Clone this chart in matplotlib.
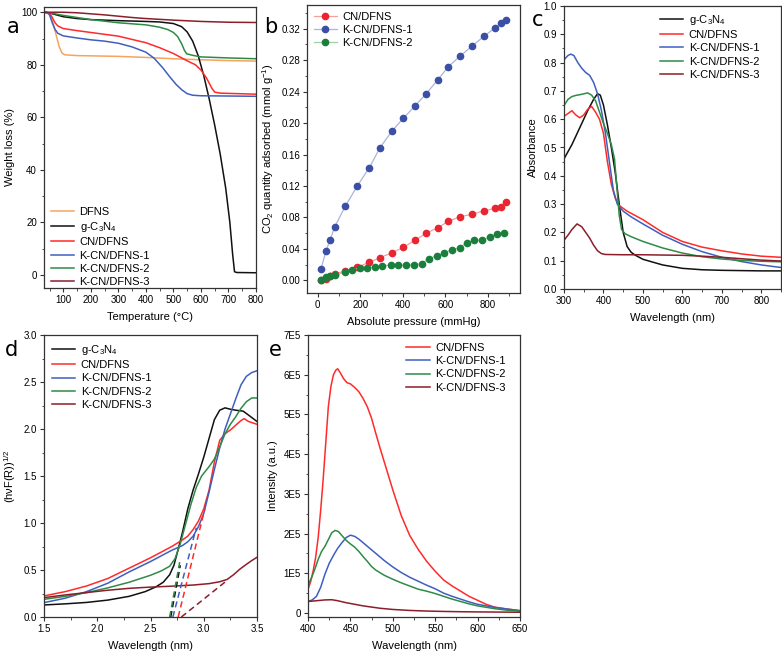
import numpy as np
import matplotlib
matplotlib.use('Agg')
import matplotlib.pyplot as plt
from matplotlib.ticker import MultipleLocator, FuncFormatter

plt.rcParams['font.family'] = ['Liberation Sans', 'DejaVu Sans']
plt.rcParams['mathtext.default'] = 'regular'
plt.rcParams['axes.linewidth'] = 0.9
plt.rcParams['axes.edgecolor'] = '#333333'

# ---- colours
c_dfns = '#F6A45E'
c_g = '#111111'
c_cn = '#FF2A2A'
c_k1 = '#3F5FC0'
c_k2 = '#2E8B46'
c_k3 = '#8B1E2A'

# ---- (a) TGA
tga_dfns_T = [30, 45, 55, 65, 75, 85, 95, 105, 150, 200, 300, 400, 500, 600, 700, 800]
tga_dfns_W = [100, 99.8, 98.5, 95, 91, 87, 84.5, 83.8, 83.5, 83.4, 83.2, 82.8, 82.3, 81.9, 81.6, 81.4]
tga_g_T = [30, 50, 100, 150, 200, 300, 400, 450, 500, 530, 550, 570, 590, 610, 630, 650, 670, 690, 705, 715, 722, 730, 800]
tga_g_W = [100, 99.7, 98.3, 97.6, 97.2, 96.8, 96.5, 96.3, 95.7, 94.5, 92.5, 89, 83.5, 76, 67, 57, 46, 33, 20, 8, 1.2, 0.9, 0.8]
tga_cn_T = [30, 50, 60, 70, 80, 100, 150, 200, 300, 400, 450, 500, 550, 580, 600, 620, 640, 650, 670, 800]
tga_cn_W = [100, 99.7, 98, 96, 94.8, 93.8, 93, 92.3, 90.9, 88.4, 86.5, 84.3, 81.5, 80, 78, 75, 71, 69.6, 69.2, 68.8]
tga_k1_T = [30, 40, 50, 60, 70, 80, 100, 150, 200, 250, 300, 350, 400, 430, 460, 490, 510, 530, 550, 570, 600, 700, 800]
tga_k1_W = [100, 100, 99, 96, 93.5, 92, 91, 90.2, 89.5, 89, 88.2, 86.8, 84.8, 82.5, 79, 75, 72.5, 70.5, 69, 68.4, 68.2, 68.1, 68]
tga_k2_T = [30, 60, 100, 150, 200, 300, 400, 450, 480, 500, 515, 530, 540, 548, 570, 600, 700, 800]
tga_k2_W = [100, 99.6, 98.8, 98, 97.2, 96, 95.2, 94.3, 93.4, 92.3, 90.8, 88, 85.5, 84.2, 83.6, 83, 82.6, 82.3]
tga_k3_T = [30, 100, 150, 200, 250, 300, 350, 400, 450, 500, 600, 700, 800]
tga_k3_W = [100, 100, 99.8, 99.4, 99, 98.5, 98, 97.6, 97.3, 97, 96.5, 96.2, 96.1]

# ---- (b) CO2 adsorption
ads_cn_P = [15.6, 39, 59, 79.5, 129, 187, 243, 293, 349, 402, 457, 510, 564, 613, 669, 725, 781, 832, 860, 884]
ads_cn_Q = [0.000, 0.002, 0.005, 0.008, 0.012, 0.017, 0.023, 0.029, 0.035, 0.042, 0.051, 0.060, 0.067, 0.075, 0.081, 0.084, 0.0885, 0.0915, 0.0936, 0.0996]
ads_k1_P = [15.6, 39, 59, 79.5, 129, 187, 243, 293, 349, 402, 457, 510, 564, 613, 669, 725, 781, 832, 860, 884]
ads_k1_Q = [0.0145, 0.0374, 0.0519, 0.0677, 0.094, 0.1204, 0.1434, 0.1689, 0.1898, 0.206, 0.2217, 0.2374, 0.2549, 0.2715, 0.2851, 0.2979, 0.3102, 0.3209, 0.3268, 0.331]
ads_k2_P = [15.6, 39, 59, 79.5, 129, 159, 200, 234, 268, 301, 343, 377, 416, 452, 488, 522, 558, 595, 631, 667, 701, 736, 772, 807, 842, 873]
ads_k2_Q = [0.001, 0.0038, 0.0055, 0.0072, 0.0102, 0.0136, 0.0153, 0.0157, 0.017, 0.0183, 0.0196, 0.0196, 0.0191, 0.020, 0.0213, 0.0277, 0.031, 0.035, 0.039, 0.0417, 0.048, 0.051, 0.051, 0.0553, 0.0596, 0.0608]

# ---- (c) UV-vis
uv_g_x = [300, 320, 340, 360, 375, 385, 392, 400, 410, 420, 430, 440, 450, 460, 470, 480, 500, 550, 600, 650, 700, 800, 850]
uv_g_y = [0.46, 0.51, 0.57, 0.63, 0.67, 0.69, 0.685, 0.65, 0.58, 0.50, 0.41, 0.30, 0.20, 0.15, 0.13, 0.12, 0.105, 0.085, 0.073, 0.068, 0.066, 0.064, 0.064]
uv_cn_x = [300, 310, 320, 330, 340, 350, 360, 370, 380, 390, 400, 410, 420, 430, 440, 460, 480, 500, 550, 600, 650, 700, 750, 800, 850]
uv_cn_y = [0.61, 0.62, 0.63, 0.615, 0.605, 0.615, 0.635, 0.645, 0.625, 0.60, 0.55, 0.45, 0.37, 0.32, 0.295, 0.275, 0.26, 0.245, 0.2, 0.168, 0.148, 0.135, 0.124, 0.116, 0.112]
uv_k1_x = [300, 310, 317, 325, 335, 345, 355, 365, 375, 385, 395, 405, 415, 425, 435, 450, 470, 500, 550, 600, 650, 700, 750, 800, 850]
uv_k1_y = [0.81, 0.825, 0.83, 0.825, 0.80, 0.78, 0.765, 0.755, 0.73, 0.69, 0.63, 0.55, 0.45, 0.35, 0.3, 0.275, 0.255, 0.23, 0.19, 0.158, 0.132, 0.112, 0.097, 0.085, 0.076]
uv_k2_x = [300, 310, 320, 330, 345, 360, 370, 380, 390, 400, 410, 420, 428, 434, 440, 446, 455, 470, 500, 550, 600, 650, 700, 750, 800, 850]
uv_k2_y = [0.648, 0.67, 0.68, 0.684, 0.688, 0.693, 0.685, 0.665, 0.625, 0.585, 0.55, 0.51, 0.46, 0.36, 0.26, 0.21, 0.195, 0.185, 0.168, 0.145, 0.127, 0.114, 0.106, 0.101, 0.098, 0.096]
uv_k3_x = [300, 310, 320, 333, 345, 355, 365, 375, 385, 395, 405, 450, 500, 600, 650, 700, 750, 800, 850]
uv_k3_y = [0.172, 0.19, 0.21, 0.23, 0.22, 0.2, 0.18, 0.155, 0.135, 0.125, 0.122, 0.121, 0.121, 0.119, 0.116, 0.112, 0.107, 0.102, 0.099]

# ---- (d) Tauc
tc_g_x = [1.5, 1.7, 1.9, 2.1, 2.3, 2.45, 2.55, 2.62, 2.68, 2.72, 2.76, 2.8, 2.85, 2.9, 2.95, 3.0, 3.05, 3.1, 3.15, 3.2, 3.25, 3.3, 3.37, 3.43, 3.5]
tc_g_y = [0.128, 0.14, 0.155, 0.18, 0.22, 0.27, 0.32, 0.37, 0.45, 0.55, 0.72, 0.9, 1.15, 1.35, 1.52, 1.7, 1.9, 2.1, 2.2, 2.225, 2.21, 2.2, 2.19, 2.14, 2.08]
tc_cn_x = [1.5, 1.7, 1.9, 2.1, 2.3, 2.5, 2.6, 2.7, 2.8, 2.85, 2.9, 2.95, 3.0, 3.05, 3.1, 3.15, 3.2, 3.25, 3.3, 3.35, 3.38, 3.42, 3.5]
tc_cn_y = [0.224, 0.27, 0.33, 0.41, 0.52, 0.63, 0.69, 0.75, 0.82, 0.86, 0.93, 1.02, 1.15, 1.35, 1.65, 1.88, 1.95, 1.99, 2.04, 2.09, 2.11, 2.08, 2.05]
tc_k1_x = [1.5, 1.7, 1.9, 2.1, 2.3, 2.5, 2.6, 2.7, 2.8, 2.85, 2.9, 2.95, 3.0, 3.05, 3.1, 3.15, 3.2, 3.25, 3.3, 3.35, 3.4, 3.45, 3.5]
tc_k1_y = [0.153, 0.2, 0.27, 0.36, 0.48, 0.59, 0.65, 0.71, 0.76, 0.8, 0.86, 0.96, 1.1, 1.33, 1.57, 1.8, 2.0, 2.16, 2.32, 2.47, 2.56, 2.6, 2.62]
tc_k2_x = [1.5, 1.7, 1.9, 2.1, 2.3, 2.5, 2.6, 2.68, 2.73, 2.78, 2.83, 2.88, 2.93, 2.98, 3.05, 3.1, 3.15, 3.2, 3.25, 3.3, 3.35, 3.4, 3.45, 3.5]
tc_k2_y = [0.188, 0.22, 0.26, 0.31, 0.37, 0.444, 0.49, 0.54, 0.62, 0.78, 0.99, 1.2, 1.38, 1.5, 1.6, 1.68, 1.81, 1.95, 2.05, 2.13, 2.22, 2.29, 2.33, 2.33]
tc_k3_x = [1.5, 1.7, 1.9, 2.1, 2.3, 2.5, 2.7, 2.9, 3.05, 3.15, 3.22, 3.28, 3.34, 3.4, 3.45, 3.5]
tc_k3_y = [0.206, 0.235, 0.26, 0.285, 0.305, 0.318, 0.328, 0.34, 0.355, 0.375, 0.4, 0.45, 0.51, 0.56, 0.6, 0.635]
# tangent lines (start on x axis, end on curve)
fit_g_x = [2.69, 2.78];  fit_g_y = [0.0, 0.55]
fit_cn_x = [2.76, 3.01]; fit_cn_y = [0.0, 1.15]
fit_k1_x = [2.71, 2.93]; fit_k1_y = [0.0, 0.95]
fit_k2_x = [2.68, 2.78]; fit_k2_y = [0.0, 0.62]
fit_k3_x = [2.79, 3.22]; fit_k3_y = [0.0, 0.39]

# ---- (e) PL
pl_cn_x = [400, 403, 406, 409, 412, 415, 418, 421, 424, 427, 430, 433, 435, 438, 442, 446, 450, 455, 460, 465, 470, 475, 480, 485, 490, 495, 500, 510, 520, 530, 540, 550, 560, 570, 580, 590, 600, 610, 620, 635, 650]
pl_cn_y = [0.6, 0.78, 1.05, 1.4, 1.9, 2.6, 3.4, 4.3, 5.2, 5.7, 6.0, 6.12, 6.15, 6.05, 5.9, 5.8, 5.77, 5.68, 5.57, 5.4, 5.19, 4.9, 4.52, 4.15, 3.8, 3.45, 3.1, 2.45, 1.95, 1.6, 1.3, 1.05, 0.83, 0.68, 0.55, 0.42, 0.32, 0.22, 0.15, 0.1, 0.06]
pl_k1_x = [400, 405, 410, 415, 420, 425, 430, 435, 440, 445, 450, 455, 460, 465, 470, 480, 490, 500, 510, 520, 530, 540, 550, 560, 570, 580, 590, 600, 620, 635, 650]
pl_k1_y = [0.29, 0.33, 0.42, 0.65, 0.98, 1.25, 1.45, 1.63, 1.77, 1.9, 1.96, 1.93, 1.86, 1.77, 1.68, 1.5, 1.32, 1.16, 1.02, 0.9, 0.8, 0.7, 0.61, 0.5, 0.42, 0.35, 0.28, 0.22, 0.14, 0.1, 0.06]
pl_k2_x = [400, 404, 408, 412, 416, 420, 424, 428, 432, 436, 440, 445, 450, 455, 460, 465, 470, 475, 480, 490, 500, 510, 520, 530, 540, 550, 560, 570, 580, 590, 600, 620, 635, 650]
pl_k2_y = [0.7, 0.88, 1.1, 1.35, 1.55, 1.68, 1.85, 2.02, 2.08, 2.05, 1.95, 1.83, 1.74, 1.66, 1.55, 1.42, 1.3, 1.17, 1.08, 0.95, 0.85, 0.76, 0.68, 0.6, 0.55, 0.49, 0.42, 0.35, 0.29, 0.23, 0.18, 0.11, 0.07, 0.05]
pl_k3_x = [400, 410, 420, 428, 435, 445, 455, 465, 475, 485, 500, 520, 540, 560, 580, 600, 625, 650]
pl_k3_y = [0.29, 0.31, 0.33, 0.335, 0.31, 0.26, 0.22, 0.18, 0.15, 0.12, 0.09, 0.065, 0.05, 0.04, 0.033, 0.028, 0.024, 0.02]
pl_scale = 1e5

lbl_g = 'g-C$_3$N$_4$'
TICK_FS = 7
LAB_FS = 8
LEG_FS = 8
LEG_KW = dict(frameon=False, fontsize=LEG_FS, handlelength=2.1, handletextpad=0.5,
              labelspacing=0.3)


def style(ax, xmaj, xmin, ymaj, ymin):
    ax.xaxis.set_major_locator(MultipleLocator(xmaj))
    ax.xaxis.set_minor_locator(MultipleLocator(xmin))
    ax.yaxis.set_major_locator(MultipleLocator(ymaj))
    ax.yaxis.set_minor_locator(MultipleLocator(ymin))
    ax.tick_params(which='major', direction='out', length=3, width=0.8, labelsize=TICK_FS, pad=2, color='#333333')
    ax.tick_params(which='minor', direction='out', length=1.8, width=0.6, color='#333333')


fig = plt.figure(figsize=(7.82, 6.54), dpi=100)
W, H = 782.0, 654.0


def add_ax(l, t, r, b):
    return fig.add_axes([l / W, 1 - b / H, (r - l) / W, (b - t) / H])


# ---------------- a
ax = add_ax(44, 7, 256, 288)
ax.plot(tga_dfns_T, tga_dfns_W, color=c_dfns, lw=1.1, label='DFNS')
ax.plot(tga_g_T, tga_g_W, color=c_g, lw=1.1, label=lbl_g)
ax.plot(tga_cn_T, tga_cn_W, color=c_cn, lw=1.1, label='CN/DFNS')
ax.plot(tga_k1_T, tga_k1_W, color=c_k1, lw=1.1, label='K-CN/DFNS-1')
ax.plot(tga_k2_T, tga_k2_W, color=c_k2, lw=1.1, label='K-CN/DFNS-2')
ax.plot(tga_k3_T, tga_k3_W, color=c_k3, lw=1.1, label='K-CN/DFNS-3')
ax.set_xlim(30, 800)
ax.set_ylim(-5, 102)
style(ax, 100, 50, 20, 10)
ax.set_xticks([100, 200, 300, 400, 500, 600, 700, 800])
ax.set_xlabel('Temperature (°C)', fontsize=LAB_FS, labelpad=5)
ax.set_ylabel('Weight loss (%)', fontsize=LAB_FS)
ax.legend(loc='lower left', bbox_to_anchor=(-0.005, -0.025), borderaxespad=0.3, **LEG_KW)

# ---------------- b
ax = add_ax(307, 5, 520, 293)
ax.plot(ads_cn_P, ads_cn_Q, color='#F4A0A0', lw=0.9, marker='o', ms=4.5, mfc='#E82530', mec='#E82530', label='CN/DFNS')
ax.plot(ads_k1_P, ads_k1_Q, color='#A9B6D9', lw=0.9, marker='o', ms=4.5, mfc='#3A4FA5', mec='#3A4FA5', label='K-CN/DFNS-1')
ax.plot(ads_k2_P, ads_k2_Q, color='#9FD1A9', lw=0.9, marker='o', ms=4.5, mfc='#1A7F3C', mec='#1A7F3C', label='K-CN/DFNS-2')
ax.set_xlim(-50, 950)
ax.set_ylim(-0.016, 0.35)
style(ax, 200, 100, 0.04, 0.02)
ax.set_xticks([0, 200, 400, 600, 800])
ax.yaxis.set_major_formatter(FuncFormatter(lambda v, p: f'{v:.2f}'))
ax.set_xlabel('Absolute pressure (mmHg)', fontsize=LAB_FS, labelpad=5)
ax.set_ylabel('CO$_2$ quantity adsorbed (mmol g$^{-1}$)', fontsize=LAB_FS)
ax.legend(loc='upper left', borderaxespad=0.2, **LEG_KW)

# ---------------- c
ax = add_ax(564, 6, 781, 289)
ax.plot(uv_g_x, uv_g_y, color=c_g, lw=1.1, label=lbl_g)
ax.plot(uv_cn_x, uv_cn_y, color=c_cn, lw=1.1, label='CN/DFNS')
ax.plot(uv_k1_x, uv_k1_y, color=c_k1, lw=1.1, label='K-CN/DFNS-1')
ax.plot(uv_k2_x, uv_k2_y, color=c_k2, lw=1.1, label='K-CN/DFNS-2')
ax.plot(uv_k3_x, uv_k3_y, color=c_k3, lw=1.1, label='K-CN/DFNS-3')
ax.set_xlim(300, 850)
ax.set_ylim(0, 1.0)
style(ax, 100, 50, 0.1, 0.05)
ax.yaxis.set_major_formatter(FuncFormatter(lambda v, p: f'{v:.1f}'))
ax.set_xlabel('Wavelength (nm)', fontsize=LAB_FS, labelpad=5)
ax.set_ylabel('Absorbance', fontsize=LAB_FS)
ax.legend(loc='upper right', bbox_to_anchor=(0.93, 1.0), borderaxespad=0.2, **LEG_KW)

# ---------------- d
ax = add_ax(44, 335, 257, 617)
ax.plot(tc_g_x, tc_g_y, color=c_g, lw=1.1, label=lbl_g)
ax.plot(tc_cn_x, tc_cn_y, color=c_cn, lw=1.1, label='CN/DFNS')
ax.plot(tc_k1_x, tc_k1_y, color=c_k1, lw=1.1, label='K-CN/DFNS-1')
ax.plot(tc_k2_x, tc_k2_y, color=c_k2, lw=1.1, label='K-CN/DFNS-2')
ax.plot(tc_k3_x, tc_k3_y, color=c_k3, lw=1.1, label='K-CN/DFNS-3')
ax.plot(fit_g_x, fit_g_y, color=c_g, lw=1.1, ls=(0, (4, 2.5)))
ax.plot(fit_cn_x, fit_cn_y, color=c_cn, lw=1.1, ls=(0, (4, 2.5)))
ax.plot(fit_k1_x, fit_k1_y, color=c_k1, lw=1.1, ls=(0, (4, 2.5)))
ax.plot(fit_k2_x, fit_k2_y, color=c_k2, lw=1.1, ls=(0, (4, 2.5)))
ax.plot(fit_k3_x, fit_k3_y, color=c_k3, lw=1.1, ls=(0, (4, 2.5)))
ax.set_xlim(1.5, 3.5)
ax.set_ylim(0, 3.0)
style(ax, 0.5, 0.25, 0.5, 0.25)
ax.xaxis.set_major_formatter(FuncFormatter(lambda v, p: f'{v:.1f}'))
ax.yaxis.set_major_formatter(FuncFormatter(lambda v, p: f'{v:.1f}'))
ax.set_xlabel('Wavelength (nm)', fontsize=LAB_FS, labelpad=5)
ax.set_ylabel('(hνF(R))$^{1/2}$', fontsize=LAB_FS)
ax.legend(loc='upper left', borderaxespad=0.3, **LEG_KW)

# ---------------- e
ax = add_ax(308, 335, 520, 617)
ax.plot(pl_cn_x, np.array(pl_cn_y) * pl_scale, color=c_cn, lw=1.1, label='CN/DFNS')
ax.plot(pl_k1_x, np.array(pl_k1_y) * pl_scale, color=c_k1, lw=1.1, label='K-CN/DFNS-1')
ax.plot(pl_k2_x, np.array(pl_k2_y) * pl_scale, color=c_k2, lw=1.1, label='K-CN/DFNS-2')
ax.plot(pl_k3_x, np.array(pl_k3_y) * pl_scale, color=c_k3, lw=1.1, label='K-CN/DFNS-3')
ax.set_xlim(400, 650)
ax.set_ylim(-1e4, 7e5)
style(ax, 50, 25, 1e5, 0.5e5)
ax.yaxis.set_major_formatter(FuncFormatter(lambda v, p: '0' if abs(v) < 1 else f'{int(round(v / 1e5))}E5'))
ax.set_xlabel('Wavelength (nm)', fontsize=LAB_FS, labelpad=5)
ax.set_ylabel('Intensity (a.u.)', fontsize=LAB_FS)
ax.legend(loc='upper right', bbox_to_anchor=(0.97, 1.0), borderaxespad=0.3, **LEG_KW)

# panel letters
for txt, x, y in [('a', 13, 27), ('b', 271, 27), ('c', 538, 20), ('d', 12, 350), ('e', 275, 350)]:
    fig.text(x / W, 1 - y / H, txt, fontsize=15, family='DejaVu Sans', va='center', ha='center')

fig.savefig('out.png', dpi=100)
